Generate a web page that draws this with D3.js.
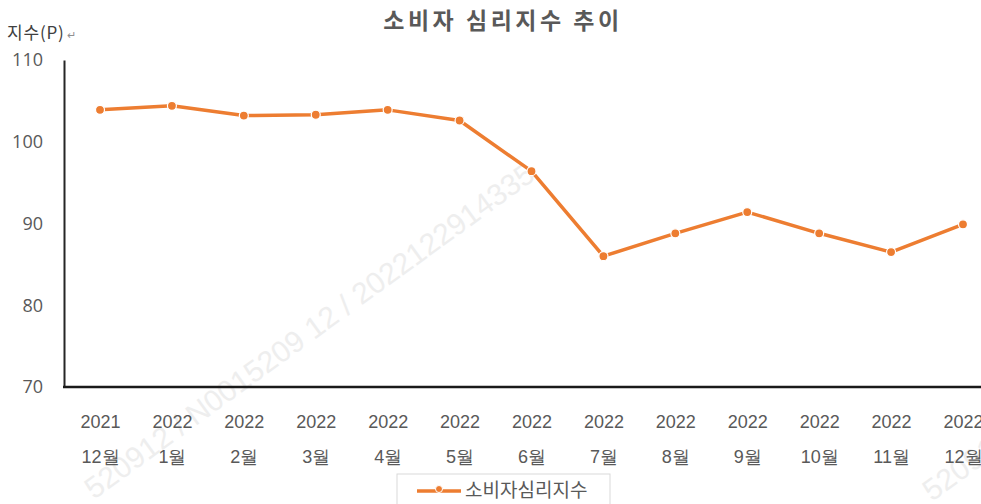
<!DOCTYPE html>
<html>
<head>
<meta charset="utf-8">
<script src="https://cdnjs.cloudflare.com/ajax/libs/d3/7.8.5/d3.min.js"></script>
<style>
  body { margin: 0; background: #fff; }
  svg { display: block; font-family: "Open Sans", "Noto Sans CJK KR", sans-serif; }
</style>
</head>
<body>
<div id="chart"></div>
<script>
// data
var years = ["2021", "2022", "2022", "2022", "2022", "2022", "2022", "2022", "2022", "2022", "2022", "2022", "2022"];
var months = ["12월", "1월", "2월", "3월", "4월", "5월", "6월", "7월", "8월", "9월", "10월", "11월", "12월"];
var ccsi = [103.9, 104.4, 103.2, 103.3, 103.9, 102.6, 96.4, 86.0, 88.8, 91.4, 88.8, 86.5, 89.9];
var yTicks = [70, 80, 90, 100, 110];
var seriesName = "소비자심리지수";

var W = 981, H = 504;
var color = "#ED7D31", textColor = "#595959";

var svg = d3.select("#chart").append("svg")
  .attr("width", W)
  .attr("height", H);

// watermark
svg.append("text")
  .attr("transform", "translate(94,500) rotate(-36)")
  .style("font-family", "Liberation Sans, sans-serif")
  .style("font-size", "30px")
  .style("fill", "#eeeeee")
  .text("520912 / N0015209 12 / 2022122914335");
svg.append("text")
  .attr("transform", "translate(932,502) rotate(-36)")
  .style("font-family", "Liberation Sans, sans-serif")
  .style("font-size", "30px")
  .style("fill", "#eeeeee")
  .text("520912");

var x = d3.scalePoint()
  .domain(d3.range(ccsi.length))
  .range([100, 963]);

var y = d3.scaleLinear()
  .domain([70, 110])
  .range([387, 60]);

// title
svg.append("text")
  .attr("x", 503)
  .attr("y", 29)
  .attr("text-anchor", "middle")
  .style("font-family", "Noto Sans CJK KR, sans-serif")
  .style("font-size", "23px")
  .style("letter-spacing", "3.5px")
  .style("font-weight", "bold")
  .style("fill", textColor)
  .text("소비자 심리지수 추이");

// y unit
svg.append("text")
  .attr("x", 7)
  .attr("y", 39)
  .style("font-family", "Noto Sans CJK KR, sans-serif")
  .style("font-size", "17px")
  .style("letter-spacing", "0.8px")
  .style("fill", "#404040")
  .text("지수(P)")
  .append("tspan")
  .style("font-size", "11px")
  .style("fill", "#909090")
  .attr("dx", 2)
  .text("↵");

// y axis
var yAxis = svg.append("g")
  .attr("transform", "translate(64,0)")
  .call(d3.axisLeft(y).tickValues(yTicks).tickSize(0).tickPadding(21));
yAxis.select(".domain").attr("stroke", "#262626").attr("stroke-width", 2);
yAxis.selectAll("text")
  .style("font-family", "Open Sans, sans-serif")
  .style("font-size", "18px")
  .style("fill", textColor);

// x axis
var xAxis = svg.append("g")
  .attr("transform", "translate(0,387)")
  .call(d3.axisBottom(x).tickSize(0).tickFormat(""));
xAxis.select(".domain").remove();
svg.append("line")
  .attr("x1", 63).attr("x2", W)
  .attr("y1", y(70)).attr("y2", y(70))
  .attr("stroke", "#1a1a1a")
  .attr("stroke-width", 2.5);

xAxis.selectAll(".tick").each(function (d) {
  var g = d3.select(this);
  g.append("text")
    .attr("y", 41)
    .attr("text-anchor", "middle")
    .style("font-size", "18px")
    .style("fill", textColor)
    .text(years[d]);
  g.append("text")
    .attr("y", 76)
    .attr("text-anchor", "middle")
    .style("font-size", "18px")
    .style("fill", textColor)
    .text(months[d]);
});

// line
var line = d3.line()
  .x(function (d, i) { return x(i); })
  .y(function (d) { return y(d); });

svg.append("path")
  .datum(ccsi)
  .attr("d", line)
  .attr("fill", "none")
  .attr("stroke", color)
  .attr("stroke-width", 3.5)
  .attr("stroke-linejoin", "round");

svg.selectAll(".dot")
  .data(ccsi)
  .enter().append("circle")
  .attr("class", "dot")
  .attr("cx", function (d, i) { return x(i); })
  .attr("cy", function (d) { return y(d); })
  .attr("r", 4.5)
  .attr("fill", color)
  .attr("stroke", "#fff")
  .attr("stroke-width", 1.2);

// legend
var lg = svg.append("g").attr("transform", "translate(397,474)");
lg.append("rect")
  .attr("width", 213).attr("height", 40)
  .attr("fill", "#fff")
  .attr("stroke", "#d9d9d9");
lg.append("line")
  .attr("x1", 20).attr("x2", 64)
  .attr("y1", 17).attr("y2", 17)
  .attr("stroke", color)
  .attr("stroke-width", 3.5);
lg.append("circle")
  .attr("cx", 42).attr("cy", 15).attr("r", 3.5)
  .attr("fill", color)
  .attr("stroke", "#fff")
  .attr("stroke-width", 1);
lg.append("text")
  .attr("x", 68).attr("y", 23)
  .style("font-family", "Noto Sans CJK KR, sans-serif")
  .style("font-size", "19px")
  .style("fill", textColor)
  .text(seriesName);
</script>
</body>
</html>
